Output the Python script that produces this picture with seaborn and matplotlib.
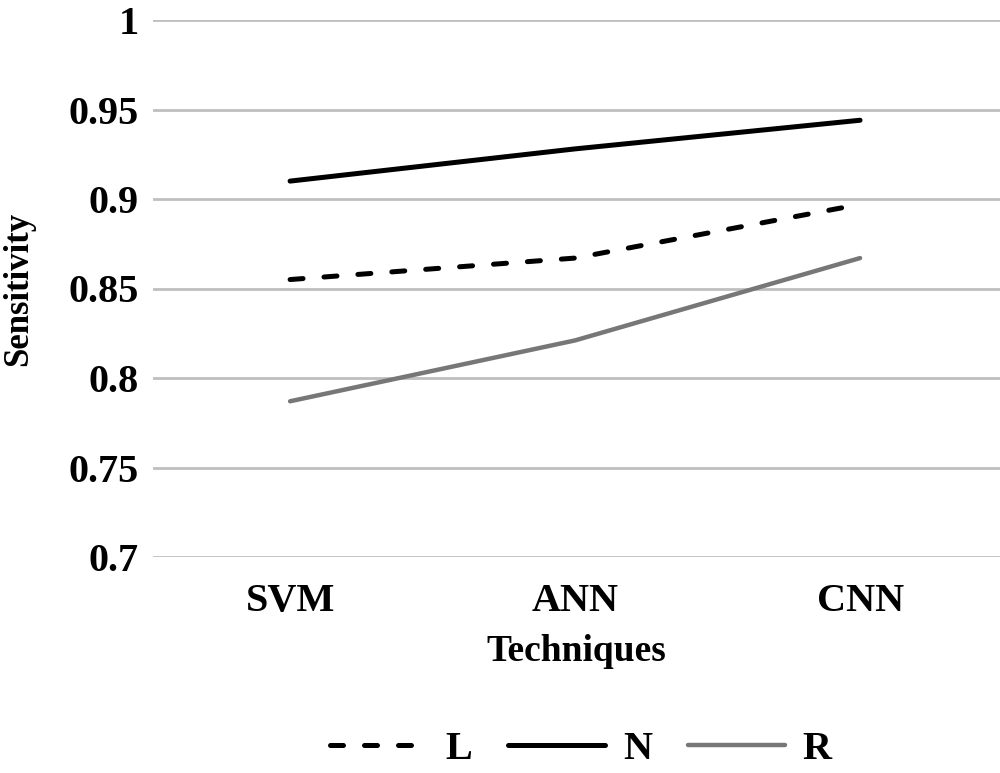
import matplotlib
matplotlib.use("Agg")
import matplotlib.pyplot as plt
import seaborn as sns
import pandas as pd
from matplotlib.lines import Line2D

techniques = ["SVM", "ANN", "CNN"]
series_names = ["L", "N", "R"]
L_values = [0.855, 0.867, 0.897]
N_values = [0.910, 0.928, 0.944]
R_values = [0.787, 0.821, 0.867]
y_ticks = [0.7, 0.75, 0.8, 0.85, 0.9, 0.95, 1.0]
y_tick_labels = ["0.7", "0.75", "0.8", "0.85", "0.9", "0.95", "1"]

df = pd.DataFrame({
    "Techniques": techniques * 3,
    "Series": ["L"] * 3 + ["N"] * 3 + ["R"] * 3,
    "Sensitivity": L_values + N_values + R_values,
})
df["x"] = df["Techniques"].map({t: i for i, t in enumerate(techniques)})

sns.set_theme(style="white")
plt.rcParams['font.family'] = ['Liberation Serif', 'DejaVu Serif']
plt.rcParams['font.weight'] = 'bold'
plt.rcParams['text.color'] = 'black'
plt.rcParams['axes.labelcolor'] = 'black'
plt.rcParams['xtick.color'] = 'black'
plt.rcParams['ytick.color'] = 'black'

fig = plt.figure(figsize=(10, 7.73), dpi=100)
ax = fig.add_axes([0.153, 1 - 557 / 773, 0.847, (557 - 20) / 773])

palette = {"L": "#000000", "N": "#000000", "R": "#777777"}
sns.lineplot(data=df, x="x", y="Sensitivity", hue="Series", palette=palette,
             ax=ax, legend=False, linewidth=3.6, sort=False)

lines = ax.get_lines()
lines[0].set_dashes((2.6, 4.2))
for ln in lines:
    ln.set_dash_capstyle("round")
    ln.set_solid_capstyle("round")
lines[2].set_linewidth(3.2)

ax.set_xlim(-0.481, 2.491)
ax.set_ylim(0.7, 1.0)
ax.set_yticks(y_ticks)
ax.set_yticklabels(y_tick_labels)
ax.set_xticks(range(len(techniques)))
ax.set_xticklabels(techniques)
ax.tick_params(axis="both", labelsize=29, length=0, colors="black")
ax.tick_params(axis="y", pad=10)
ax.tick_params(axis="x", pad=19)
for lab in ax.get_xticklabels() + ax.get_yticklabels():
    lab.set_fontweight("bold")
    lab.set_color("black")
ax.yaxis.grid(True, color="#bfbfbf", linewidth=2.0)
ax.set_axisbelow(True)
for s in ax.spines.values():
    s.set_visible(False)

ax.set_xlabel("Techniques", fontsize=27, fontweight="bold", labelpad=10, color="black")
ax.set_ylabel("Sensitivity", fontsize=25, fontweight="bold", color="black")
ax.yaxis.set_label_coords(-0.139, 0.5)

handles = [
    Line2D([], [], color="#000000", linewidth=3.6, dashes=(2.6, 4.2), dash_capstyle="round"),
    Line2D([], [], color="#000000", linewidth=3.6, solid_capstyle="round"),
    Line2D([], [], color="#777777", linewidth=3.2, solid_capstyle="round"),
]
leg = fig.legend(handles, series_names, loc="center", bbox_to_anchor=(0.581, 0.030),
                 ncol=3, frameon=False, handlelength=2.4,
                 columnspacing=0.9, handletextpad=0.45,
                 prop={"family": "Liberation Serif", "weight": "bold", "size": 29})
for t in leg.get_texts():
    t.set_color("black")

fig.savefig("out.png", dpi=100, facecolor="white")
